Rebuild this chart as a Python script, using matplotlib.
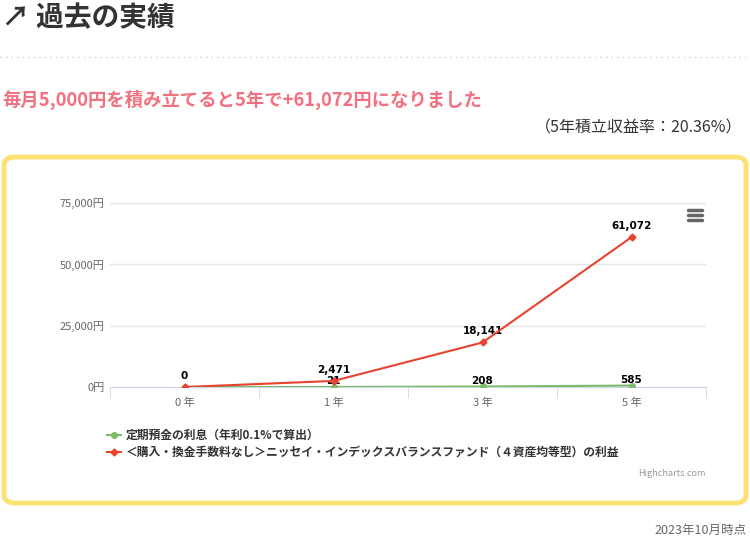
import matplotlib.pyplot as plt
from matplotlib.patches import FancyBboxPatch
from matplotlib.lines import Line2D

plt.rcParams["font.family"] = ["Noto Sans CJK JP", "DejaVu Sans"]

categories = ["0 年", "1 年", "3 年", "5 年"]
deposit = [0, 21, 208, 585]
fund = [0, 2471, 18141, 61072]
yticks = [0, 25000, 50000, 75000]
ytick_labels = ["0円", "25,000円", "50,000円", "75,000円"]

W, H = 750, 540
fig = plt.figure(figsize=(W / 100, H / 100), dpi=100)

def fx(px):
    return px / W

def fy(py):
    return 1 - py / H

# header
fig.text(fx(2), fy(18), "↗ 過去の実績", fontsize=20, fontweight="bold", color="#333333", va="center")
fig.add_artist(Line2D([fx(0), fx(750)], [fy(57), fy(57)], color="#cccccc", lw=1, ls=(0, (1, 3))))
fig.text(fx(2), fy(100), "毎月5,000円を積み立てると5年で+61,072円になりました",
         fontsize=13.2, fontweight="bold", color="#f2707f", va="center")
fig.text(fx(742), fy(128), "（5年積立収益率：20.36%）", fontsize=11.5, color="#333333", va="center", ha="right")

box = FancyBboxPatch((fx(4), fy(503)), fx(742), fy(157) - fy(503),
                     boxstyle="round,pad=0,rounding_size=0.015", transform=fig.transFigure,
                     fill=False, edgecolor="#fbe273", lw=3.5)
fig.add_artist(box)

ax = fig.add_axes([fx(110), fy(387), fx(596), fy(203) - fy(387)])
x = list(range(len(categories)))
ax.plot(x, deposit, color="#7cbb6a", lw=1.5, marker="o", ms=4, zorder=3)
ax.plot(x, fund, color="#e8432f", lw=1.5, marker="D", ms=3.5, zorder=4)
for i, v in enumerate(fund):
    ax.annotate(f"{v:,}", (i, v), textcoords="offset points", xytext=(0, 6),
                ha="center", fontsize=7.5, fontweight="bold", color="#000000", family="DejaVu Sans")
for i, v in enumerate(deposit):
    if i == 0:
        continue
    ax.annotate(f"{v:,}", (i, v), textcoords="offset points", xytext=(0, 2),
                ha="center", fontsize=7.5, fontweight="bold", color="#000000", family="DejaVu Sans")

ax.set_xlim(-0.5, 3.5)
ax.set_ylim(0, 75000)
ax.set_yticks(yticks)
ax.set_yticklabels(ytick_labels, fontsize=8, color="#666666")
ax.set_xticks(x)
ax.set_xticklabels(categories, fontsize=8, color="#666666")
ax.set_xticks([-0.5, 0.5, 1.5, 2.5, 3.5], minor=True)
ax.tick_params(axis="x", which="major", length=0, pad=8)
ax.tick_params(axis="x", which="minor", length=8, color="#ccd6eb")
ax.tick_params(axis="y", length=0, pad=4)
ax.grid(axis="y", color="#e6e6e6", lw=1)
ax.set_axisbelow(True)
for s in ["top", "right", "left"]:
    ax.spines[s].set_visible(False)
ax.spines["bottom"].set_color("#ccd6eb")

# menu icon
for k in range(3):
    fig.add_artist(Line2D([fx(688), fx(702)], [fy(210 + 5 * k)] * 2, color="#666666", lw=2.5,
                          solid_capstyle="round"))

# legend
fig.add_artist(Line2D([fx(107), fx(121)], [fy(435)] * 2, color="#7cbb6a", lw=1.5))
fig.add_artist(Line2D([fx(114)], [fy(435)], color="#7cbb6a", marker="o", ms=4))
fig.text(fx(126), fy(435), "定期預金の利息（年利0.1%で算出）", fontsize=8.5, fontweight="bold",
         color="#333333", va="center")
fig.add_artist(Line2D([fx(107), fx(121)], [fy(452)] * 2, color="#e8432f", lw=1.5))
fig.add_artist(Line2D([fx(114)], [fy(452)], color="#e8432f", marker="D", ms=3.5))
fig.text(fx(126), fy(452), "＜購入・換金手数料なし＞ニッセイ・インデックスバランスファンド（４資産均等型）の利益",
         fontsize=8.5, fontweight="bold", color="#333333", va="center")
fig.text(fx(706), fy(474), "Highcharts.com", fontsize=6.5, color="#999999", ha="right", va="center")

fig.text(fx(746), fy(530), "2023年10月時点", fontsize=9, color="#666666", ha="right", va="center")

fig.savefig("out.png", dpi=100)
